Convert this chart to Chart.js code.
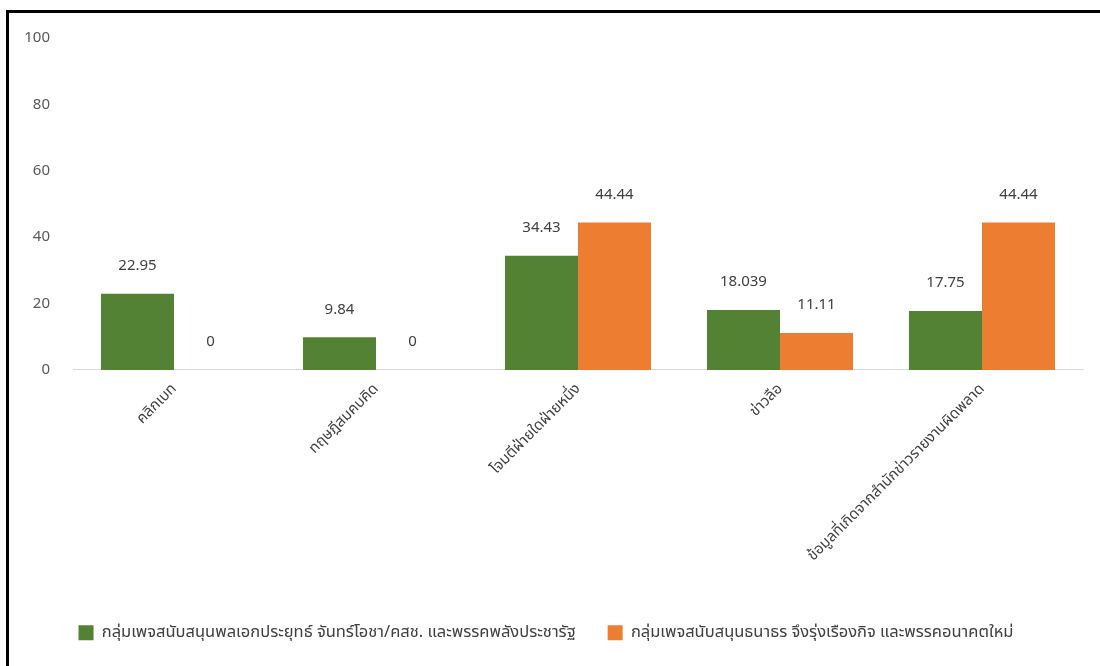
<!DOCTYPE html>
<html>
<head>
<meta charset="utf-8">
<script src="https://cdn.jsdelivr.net/npm/chart.js@4.4.1/dist/chart.umd.min.js"></script>
<style>
  html, body { margin: 0; padding: 0; background: #fff; }
  .frame {
    position: absolute; left: 6px; top: 10px;
    width: 1094px; height: 656px;
    border-left: 3px solid #000; border-top: 3px solid #000;
  }
  .frame canvas { display: block; }
</style>
</head>
<body>
<div class="frame"><canvas id="chart" width="1091" height="653"></canvas></div>
<script>
'use strict';

/* ── data ── */
const categories = [
  'คลิกเบท',
  'ทฤษฎีสมคบคิด',
  'โจมตีฝ่ายใดฝ่ายหนึ่ง',
  'ข่าวลือ',
  'ข้อมูลที่เกิดจากสำนักข่าวรายงานผิดพลาด'
];
const seriesNames = [
  'กลุ่มเพจสนับสนุนพลเอกประยุทธ์ จันทร์โอชา/คสช. และพรรคพลังประชารัฐ',
  'กลุ่มเพจสนับสนุนธนาธร จึงรุ่งเรืองกิจ และพรรคอนาคตใหม่'
];
const prayutValues = [22.95, 9.84, 34.43, 18.039, 17.75];
const thanathornValues = [0, 0, 44.44, 11.11, 44.44];
const yTicks = [0, 20, 40, 60, 80, 100];

const FONT = "'Noto Sans', 'Noto Sans Thai', Tahoma, sans-serif";

/* value labels above each bar */
const barLabels = {
  id: 'barLabels',
  afterDatasetsDraw(chart) {
    const { ctx } = chart;
    ctx.save();
    ctx.font = '15px ' + FONT;
    ctx.fillStyle = '#404040';
    ctx.textAlign = 'center';
    ctx.textBaseline = 'middle';
    chart.data.datasets.forEach((ds, i) => {
      chart.getDatasetMeta(i).data.forEach((bar, j) => {
        ctx.fillText(String(ds.data[j]), bar.x, bar.y - 28);
      });
    });
    ctx.restore();
  }
};

new Chart(document.getElementById('chart'), {
  type: 'bar',
  data: {
    labels: categories,
    datasets: [
      { label: seriesNames[0], data: prayutValues, backgroundColor: '#548235' },
      { label: seriesNames[1], data: thanathornValues, backgroundColor: '#ED7D31' }
    ]
  },
  options: {
    responsive: false,
    animation: false,
    layout: { padding: { top: 25, right: 17, bottom: 15, left: 0 } },
    datasets: { bar: { barPercentage: 1, categoryPercentage: 0.723 } },
    plugins: {
      legend: {
        position: 'bottom',
        labels: { color: '#404040', font: { family: FONT, size: 16.5 }, boxWidth: 15, boxHeight: 15, padding: 32 }
      },
      tooltip: { enabled: false }
    },
    scales: {
      x: {
        grid: { display: false, drawTicks: false },
        border: { color: '#d9d9d9', width: 1 },
        afterFit: s => { s.height += 18; },
        ticks: { color: '#404040', font: { family: FONT, size: 15 }, minRotation: 45, maxRotation: 45, padding: 10 }
      },
      y: {
        min: 0, max: 100,
        afterBuildTicks: s => { s.ticks = yTicks.map(v => ({ value: v })); },
        afterFit: s => { s.width = 64; s.paddingTop = 0; s.paddingBottom = 0; },
        grid: { display: false, drawTicks: false },
        border: { display: false },
        ticks: { color: '#595959', font: { family: FONT, size: 15 }, padding: 23 }
      }
    }
  },
  plugins: [barLabels]
});
</script>
</body>
</html>
